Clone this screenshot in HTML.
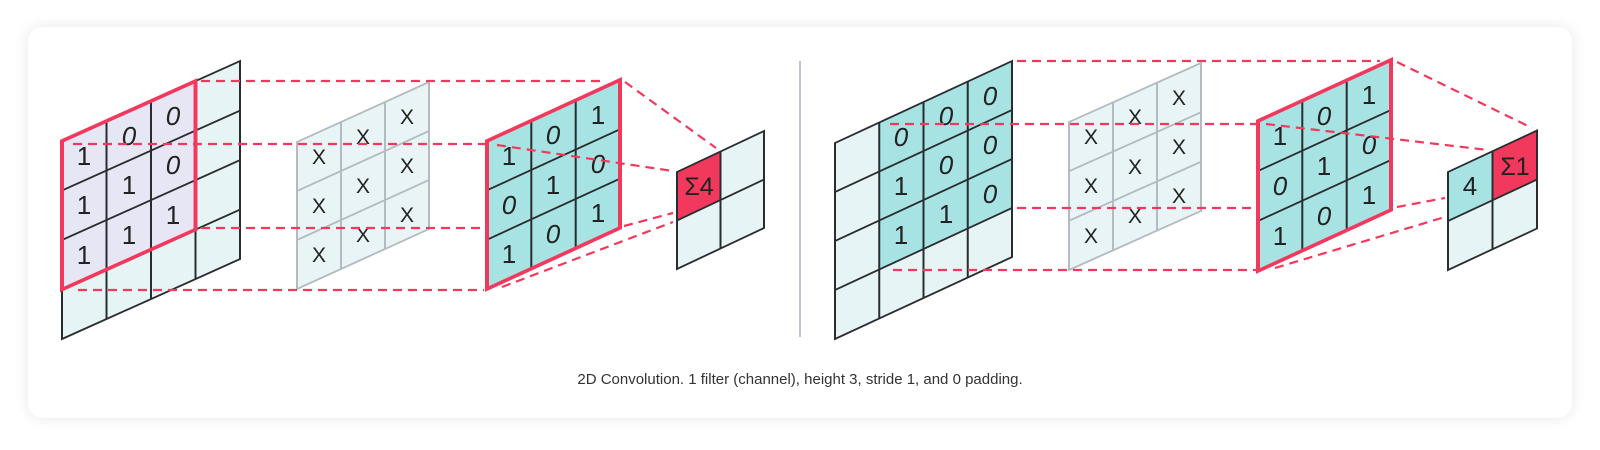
<!DOCTYPE html>
<html><head><meta charset="utf-8"><style>
html,body{margin:0;padding:0;background:#fff;width:1600px;height:450px;overflow:hidden}
.card{position:absolute;left:28px;top:27px;width:1544px;height:391px;border-radius:14px;background:#fff;box-shadow:0 0 14px rgba(0,0,0,0.10)}
svg{position:absolute;left:0;top:0}
.t{font-family:"Liberation Sans",sans-serif;font-size:26px;fill:#222;text-anchor:middle}
.o{font-style:italic}
.x{font-family:"Liberation Sans",sans-serif;font-size:21px;fill:#222;text-anchor:middle}
.cap{font-family:"Liberation Sans",sans-serif;font-size:15px;fill:#333;text-anchor:middle}
</style></head><body>
<div class="card"></div>
<svg width="1600" height="450" viewBox="0 0 1600 450">
<line x1="800" y1="61" x2="800" y2="337" stroke="#a9b4c7" stroke-width="1.5"/>

<!-- Left input -->
<g transform="matrix(1,-0.449,0,1,62,141)">
<rect x="0" y="0" width="178" height="198" fill="#e6f4f5"/>
<rect x="0" y="0" width="133.5" height="148.5" fill="#e7e6f5"/>
<g stroke="#2a2d2f" stroke-width="2" fill="none">
<rect x="0" y="0" width="178" height="198"/>
<line x1="44.5" y1="0" x2="44.5" y2="198"/><line x1="89" y1="0" x2="89" y2="198"/><line x1="133.5" y1="0" x2="133.5" y2="198"/>
<line x1="0" y1="49.5" x2="178" y2="49.5"/><line x1="0" y1="99" x2="178" y2="99"/><line x1="0" y1="148.5" x2="178" y2="148.5"/>
</g>
<rect x="0" y="0" width="133.5" height="148.5" fill="none" stroke="#f2395d" stroke-width="4"/>
</g>
<text class="t" x="84" y="165">1</text><text class="t o" x="129" y="145">0</text><text class="t o" x="173" y="125">0</text>
<text class="t" x="84" y="214">1</text><text class="t" x="129" y="194">1</text><text class="t o" x="173" y="174">0</text>
<text class="t" x="84" y="264">1</text><text class="t" x="129" y="244">1</text><text class="t" x="173" y="224">1</text>

<!-- Left filter -->
<g transform="matrix(1,-0.4545,0,1,297,142)">
<rect x="0" y="0" width="132" height="147" fill="#e8f4f5"/>
<g stroke="#b3bbc0" stroke-width="2" fill="none">
<rect x="0" y="0" width="132" height="147"/>
<line x1="44" y1="0" x2="44" y2="147"/><line x1="88" y1="0" x2="88" y2="147"/>
<line x1="0" y1="49" x2="132" y2="49"/><line x1="0" y1="98" x2="132" y2="98"/>
</g>
</g>
<text class="x" x="319" y="164">X</text><text class="x" x="363" y="144">X</text><text class="x" x="407" y="124">X</text>
<text class="x" x="319" y="213">X</text><text class="x" x="363" y="193">X</text><text class="x" x="407" y="173">X</text>
<text class="x" x="319" y="262">X</text><text class="x" x="363" y="242">X</text><text class="x" x="407" y="222">X</text>

<!-- Left kernel -->
<g transform="matrix(1,-0.459,0,1,487,141)">
<rect x="0" y="0" width="133" height="148" fill="#a6e3e2"/>
<g stroke="#2a2d2f" stroke-width="2" fill="none">
<line x1="44.3" y1="0" x2="44.3" y2="148"/><line x1="88.7" y1="0" x2="88.7" y2="148"/>
<line x1="0" y1="49.3" x2="133" y2="49.3"/><line x1="0" y1="98.7" x2="133" y2="98.7"/>
</g>
<rect x="0" y="0" width="133" height="148" fill="none" stroke="#f2395d" stroke-width="4"/>
</g>
<text class="t" x="509" y="165">1</text><text class="t o" x="553" y="144">0</text><text class="t" x="598" y="124">1</text>
<text class="t o" x="509" y="214">0</text><text class="t" x="553" y="194">1</text><text class="t o" x="598" y="173">0</text>
<text class="t" x="509" y="263">1</text><text class="t o" x="553" y="243">0</text><text class="t" x="598" y="222">1</text>

<!-- Left output -->
<g transform="matrix(1,-0.471,0,1,677,172)">
<rect x="0" y="0" width="87" height="97" fill="#e6f4f5"/>
<rect x="0" y="0" width="43.5" height="48.5" fill="#f2395d"/>
<g stroke="#2a2d2f" stroke-width="2" fill="none">
<rect x="0" y="0" width="87" height="97"/>
<line x1="43.5" y1="0" x2="43.5" y2="97"/><line x1="0" y1="48.5" x2="87" y2="48.5"/>
</g>
</g>
<text class="t" x="699" y="195" style="font-size:25px">Σ4</text>

<!-- Right input -->
<g transform="matrix(1,-0.463,0,1,835,143)">
<rect x="0" y="0" width="177" height="196" fill="#e6f4f5"/>
<rect x="44.25" y="0" width="132.75" height="147" fill="#a6e3e2"/>
<g stroke="#2a2d2f" stroke-width="2" fill="none">
<rect x="0" y="0" width="177" height="196"/>
<line x1="44.25" y1="0" x2="44.25" y2="196"/><line x1="88.5" y1="0" x2="88.5" y2="196"/><line x1="132.75" y1="0" x2="132.75" y2="196"/>
<line x1="0" y1="49" x2="177" y2="49"/><line x1="0" y1="98" x2="177" y2="98"/><line x1="0" y1="147" x2="177" y2="147"/>
</g>
</g>
<text class="t o" x="901" y="146">0</text><text class="t o" x="946" y="125">0</text><text class="t o" x="990" y="105">0</text>
<text class="t" x="901" y="195">1</text><text class="t o" x="946" y="174">0</text><text class="t o" x="990" y="154">0</text>
<text class="t" x="901" y="244">1</text><text class="t" x="946" y="223">1</text><text class="t o" x="990" y="203">0</text>

<!-- Right filter -->
<g transform="matrix(1,-0.447,0,1,1069,122)">
<rect x="0" y="0" width="132" height="148" fill="#e8f4f5"/>
<g stroke="#b3bbc0" stroke-width="2" fill="none">
<rect x="0" y="0" width="132" height="148"/>
<line x1="44" y1="0" x2="44" y2="148"/><line x1="88" y1="0" x2="88" y2="148"/>
<line x1="0" y1="49.3" x2="132" y2="49.3"/><line x1="0" y1="98.7" x2="132" y2="98.7"/>
</g>
</g>
<text class="x" x="1091" y="144">X</text><text class="x" x="1135" y="124">X</text><text class="x" x="1179" y="105">X</text>
<text class="x" x="1091" y="193">X</text><text class="x" x="1135" y="174">X</text><text class="x" x="1179" y="154">X</text>
<text class="x" x="1091" y="243">X</text><text class="x" x="1135" y="223">X</text><text class="x" x="1179" y="203">X</text>

<!-- Right kernel -->
<g transform="matrix(1,-0.459,0,1,1258,121)">
<rect x="0" y="0" width="133" height="150" fill="#a6e3e2"/>
<g stroke="#2a2d2f" stroke-width="2" fill="none">
<line x1="44.3" y1="0" x2="44.3" y2="150"/><line x1="88.7" y1="0" x2="88.7" y2="150"/>
<line x1="0" y1="50" x2="133" y2="50"/><line x1="0" y1="100" x2="133" y2="100"/>
</g>
<rect x="0" y="0" width="133" height="150" fill="none" stroke="#f2395d" stroke-width="4"/>
</g>
<text class="t" x="1280" y="145">1</text><text class="t o" x="1324" y="125">0</text><text class="t" x="1369" y="104">1</text>
<text class="t o" x="1280" y="195">0</text><text class="t" x="1324" y="175">1</text><text class="t o" x="1369" y="154">0</text>
<text class="t" x="1280" y="245">1</text><text class="t o" x="1324" y="225">0</text><text class="t" x="1369" y="204">1</text>

<!-- Right output -->
<g transform="matrix(1,-0.466,0,1,1448,172)">
<rect x="0" y="0" width="89" height="98" fill="#e6f4f5"/>
<rect x="0" y="0" width="44.5" height="49" fill="#a6e3e2"/>
<rect x="44.5" y="0" width="44.5" height="49" fill="#f2395d"/>
<g stroke="#2a2d2f" stroke-width="2" fill="none">
<rect x="0" y="0" width="89" height="98"/>
<line x1="44.5" y1="0" x2="44.5" y2="98"/><line x1="0" y1="49" x2="89" y2="49"/>
</g>
</g>
<text class="t" x="1470" y="195">4</text>
<text class="t" x="1515" y="175" style="font-size:25px">Σ1</text>

<!-- Dashed connectors -->
<g stroke="#f2395d" stroke-width="2.2" stroke-dasharray="9,6" fill="none">
<line x1="201" y1="81" x2="606" y2="81"/>
<line x1="73" y1="144" x2="487" y2="144"/>
<line x1="497" y1="145" x2="673" y2="171"/>
<line x1="201" y1="228" x2="484" y2="228"/>
<line x1="624" y1="226" x2="673" y2="213"/>
<line x1="78" y1="290" x2="484" y2="290"/>
<line x1="502" y1="287" x2="673" y2="222"/>
<line x1="625" y1="82" x2="716" y2="148"/>

<line x1="1017" y1="61" x2="1380" y2="61"/>
<line x1="890" y1="124" x2="1256" y2="124"/>
<line x1="1266" y1="124" x2="1488" y2="150"/>
<line x1="1017" y1="208" x2="1256" y2="208"/>
<line x1="1397" y1="207" x2="1445" y2="198"/>
<line x1="893" y1="270" x2="1256" y2="270"/>
<line x1="1275" y1="268" x2="1445" y2="217"/>
<line x1="1397" y1="62" x2="1532" y2="128"/>
</g>

<text class="cap" x="800" y="384">2D Convolution. 1 filter (channel), height 3, stride 1, and 0 padding.</text>
</svg>
</body></html>
